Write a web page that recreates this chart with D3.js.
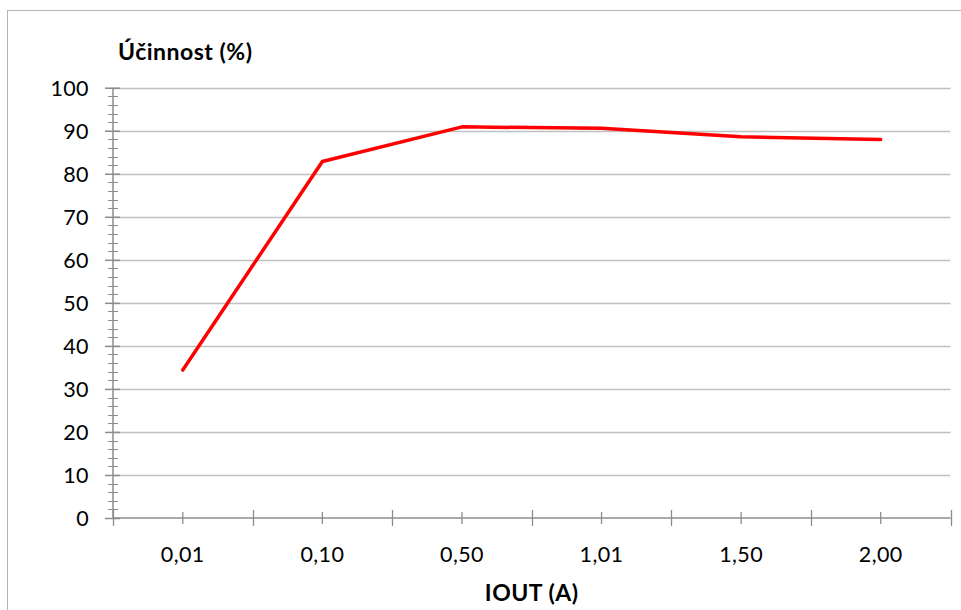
<html>
<head>
<script src="https://cdn.jsdelivr.net/npm/d3@7"></script>
<style>
  body { margin: 0; background: #fff; }
  svg text { font-family: Lato, "Open Sans", sans-serif; fill: #000; }
  .tick text { font-size: 21.5px; letter-spacing: 0.4px; }
  .ttl { font-size: 23px; font-weight: bold; letter-spacing: 0.5px; }
</style>
</head>
<body>
<div id="chart"></div>
<script>
// data
let categories = ["0,01", "0,10", "0,50", "1,01", "1,50", "2,00"];
let efficiency = [34.4, 82.85, 90.9, 90.55, 88.6, 87.95];
let yTicks = [0, 10, 20, 30, 40, 50, 60, 70, 80, 90, 100];
let yMinorTicks = d3.range(0, 101, 2);

let W = 961, H = 610;
let plot = {left: 113, right: 950.5, top: 87.7, bottom: 518};

let svg = d3.select('#chart').append('svg')
  .attr('width', W).attr('height', H);

// outer chart frame
svg.append('rect')
  .attr('x', 7.5).attr('y', 10.5)
  .attr('width', W + 10).attr('height', H + 10)
  .attr('fill', 'none').attr('stroke', '#b4b4b4').attr('stroke-width', 1);

let x = d3.scaleBand()
  .domain(categories)
  .range([plot.left, plot.right]);

let y = d3.scaleLinear()
  .domain([0, 100])
  .range([plot.bottom, plot.top]);

// gridlines
svg.append('g')
  .selectAll('line')
  .data(yTicks.filter(d => d > 0))
  .enter().append('line')
  .attr('x1', plot.left).attr('x2', plot.right)
  .attr('y1', d => Math.round(y(d)) + 0.5).attr('y2', d => Math.round(y(d)) + 0.5)
  .attr('stroke', '#c0c0c0').attr('stroke-width', 1.3);

// y minor ticks
svg.append('g')
  .selectAll('line')
  .data(yMinorTicks)
  .enter().append('line')
  .attr('x1', plot.left - 5).attr('x2', plot.left + 5)
  .attr('y1', d => Math.round(y(d)) + 0.5).attr('y2', d => Math.round(y(d)) + 0.5)
  .attr('stroke', '#8c8c8c').attr('stroke-width', 1);

// y axis (major ticks crossing)
let yAxis = d3.axisLeft(y).tickValues(yTicks).tickSize(8).tickPadding(16).tickFormat(d3.format('d'));
let gy = svg.append('g').attr('transform', 'translate(' + plot.left + ',0)').call(yAxis)
  .attr('font-family', null).attr('font-size', null);
gy.select('.domain').attr('stroke', '#8c8c8c').attr('stroke-width', 1.5).attr('d', 'M0,' + plot.top + 'V' + plot.bottom);
gy.selectAll('.tick line').attr('stroke', '#8c8c8c').attr('stroke-width', 1.5).attr('x1', 7);
gy.selectAll('.tick text').attr('dy', '0.36em');

// x axis: minor ticks at category centers, major ticks at boundaries
let gx = svg.append('g').attr('transform', 'translate(0,' + plot.bottom + ')');
gx.append('line')
  .attr('x1', plot.left).attr('x2', plot.right)
  .attr('stroke', '#8c8c8c').attr('stroke-width', 1.5);
let bounds = categories.map(c => x(c)).concat([plot.right]);
gx.selectAll('.bound').data(bounds).enter().append('line')
  .attr('class', 'bound')
  .attr('x1', d => Math.round(d) + 0.5).attr('x2', d => Math.round(d) + 0.5)
  .attr('y1', -8).attr('y2', 8)
  .attr('stroke', '#8c8c8c').attr('stroke-width', 1.3);
let xAxis = d3.axisBottom(x).tickSize(6).tickPadding(23);
let gxt = gx.append('g').call(xAxis)
  .attr('font-family', null).attr('font-size', null);
gxt.select('.domain').remove();
gxt.selectAll('.tick line').attr('y1', -6).attr('stroke', '#8c8c8c').attr('stroke-width', 1.3);

// line
let line = d3.line()
  .x((d, i) => x(categories[i]) + x.bandwidth() / 2)
  .y(d => y(d));
svg.append('path')
  .datum(efficiency)
  .attr('d', line)
  .attr('fill', 'none')
  .attr('stroke', '#ff0000')
  .attr('stroke-width', 3.5)
  .attr('stroke-linejoin', 'round')
  .attr('stroke-linecap', 'round');

// titles
svg.append('text').attr('class', 'ttl')
  .attr('x', 118).attr('y', 60)
  .text('Účinnost (%)');
svg.append('text').attr('class', 'ttl')
  .attr('x', (plot.left + plot.right) / 2).attr('y', 601)
  .attr('text-anchor', 'middle')
  .text('IOUT (A)');
</script>
</body>
</html>
